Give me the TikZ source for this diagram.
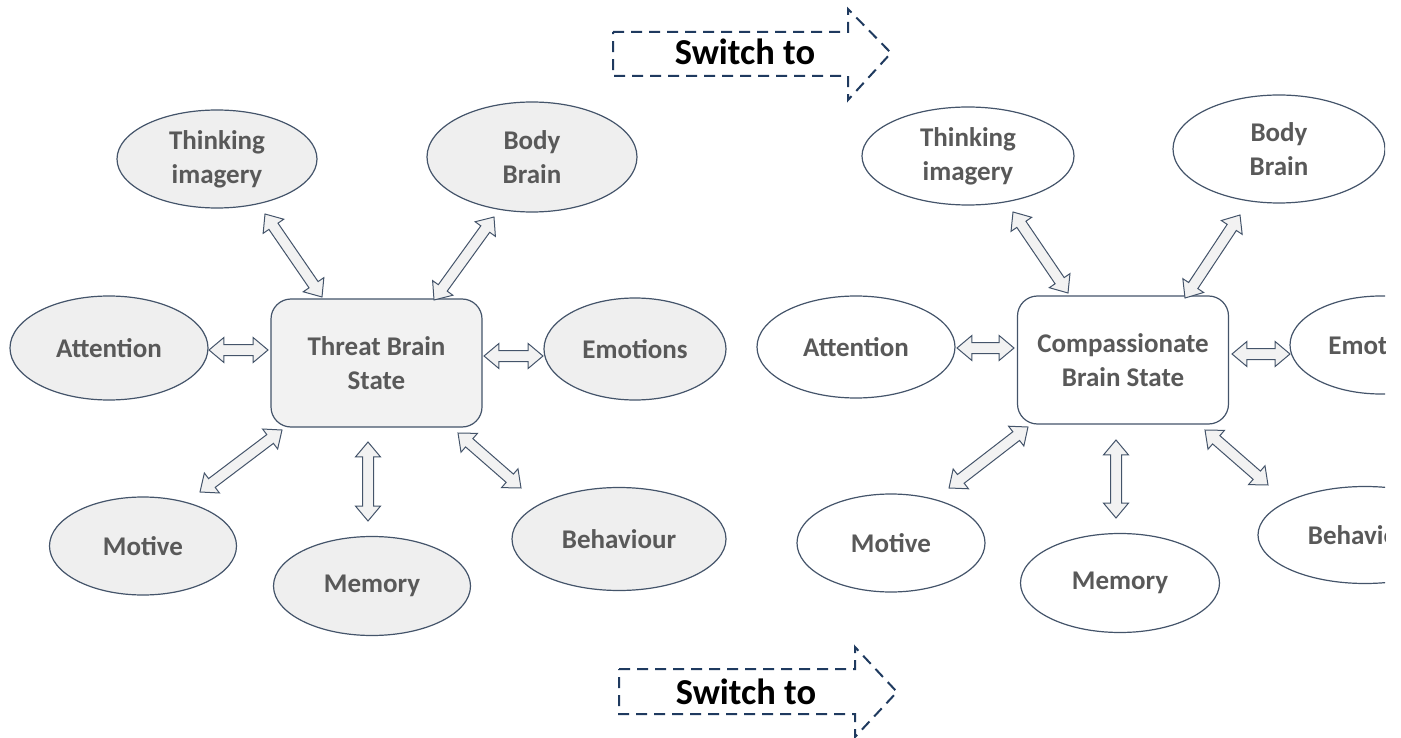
\documentclass[tikz,border=0pt]{standalone}
\usepackage{fontspec}
\setmainfont{Carlito}
\usetikzlibrary{shapes.geometric,shapes.arrows,calc}
\definecolor{ec}{HTML}{44546A}
\definecolor{navy}{HTML}{1F3A5F}
\definecolor{tg}{HTML}{595959}
\definecolor{fillc}{HTML}{EFEFEF}
\definecolor{arrf}{HTML}{F2F2F2}
\tikzset{
  ell/.style={ellipse, draw=ec, line width=1.2pt, inner sep=0pt, text=tg,
    font=\fontsize{27}{34}\selectfont\bfseries, align=center},
  grayell/.style={ell, fill=fillc},
  whiteell/.style={ell, fill=white},
  statebox/.style={rectangle, rounded corners=20pt, draw=ec, line width=1.2pt,
    minimum width=211pt, minimum height=128pt, inner sep=0pt, text=tg,
    font=\fontsize{27}{34}\selectfont\bfseries, align=center},
  barr/.style={double arrow, draw=ec, fill=arrf, line width=1pt,
    double arrow head extend=7pt,
    double arrow tip angle=80, inner xsep=0pt, inner ysep=5pt},
  switcharrow/.style={draw=navy, line width=2pt, dash pattern=on 11pt off 7pt},
  switchtext/.style={font=\fontsize{36.5}{40}\selectfont\bfseries, text=black}
}
\newcommand\blockarrow[3]{%
  \path let \p1=(#2), \p2=(#3), \n1={atan2(\y2-\y1,\x2-\x1)},
    \n2={veclen(\x2-\x1,\y2-\y1)} in
    node[barr, minimum height=\n2, rotate=\n1] (#1) at ($(#2)!0.5!(#3)$) {};}
\begin{document}
\begin{tikzpicture}[x=1pt,y=-1pt]
\useasboundingbox (0,0) rectangle (1401,738);
\begin{scope}
\clip (0,0) rectangle (1385,738);
% ---------- left: threat ----------
\node[statebox, fill=arrf] (threat) at (376.5,363) {Threat Brain\\State};
\node[grayell, minimum width=200pt, minimum height=98pt] (lthink) at (217,159) {Thinking\\imagery};
\node[grayell, minimum width=210pt, minimum height=110pt] (lbody) at (532,157) {Body\\Brain};
\node[grayell, minimum width=198pt, minimum height=104pt] (latt) at (109,348) {Attention};
\node[grayell, minimum width=182pt, minimum height=102pt] (lemo) at (635,349) {Emotions};
\node[grayell, minimum width=187pt, minimum height=98pt] (lmot) at (143,546) {Motive};
\node[grayell, minimum width=197pt, minimum height=99pt] (lmem) at (372,586) {Memory};
\node[grayell, minimum width=214pt, minimum height=103pt] (lbeh) at (619,539) {Behaviour};
\coordinate (a1s) at (265,214); \coordinate (a1e) at (322,297);
\coordinate (a2s) at (494,217); \coordinate (a2e) at (434,300);
\coordinate (a3s) at (209,350); \coordinate (a3e) at (268,350);
\coordinate (a4s) at (484,356); \coordinate (a4e) at (543,356);
\coordinate (a5s) at (200,492); \coordinate (a5e) at (282,430);
\coordinate (a6s) at (368,442); \coordinate (a6e) at (368,521);
\coordinate (a7s) at (458,433); \coordinate (a7e) at (521,488);
\blockarrow{la1}{a1s}{a1e}
\blockarrow{la2}{a2s}{a2e}
\blockarrow{la3}{a3s}{a3e}
\blockarrow{la4}{a4s}{a4e}
\blockarrow{la5}{a5s}{a5e}
\blockarrow{la6}{a6s}{a6e}
\blockarrow{la7}{a7s}{a7e}
% ---------- right: compassionate ----------
\node[statebox, fill=white] (comp) at (1123,360) {Compassionate\\Brain State};
\node[whiteell, minimum width=212pt, minimum height=98pt] (rthink) at (968,156) {Thinking\\imagery};
\node[whiteell, minimum width=212pt, minimum height=108pt] (rbody) at (1279,149) {Body\\Brain};
\node[whiteell, minimum width=198pt, minimum height=102pt] (ratt) at (856,347) {Attention};
\node[whiteell, minimum width=182pt, minimum height=98pt] (remo) at (1381,345) {Emotions};
\node[whiteell, minimum width=188pt, minimum height=98pt] (rmot) at (891,543) {Motive};
\node[whiteell, minimum width=199pt, minimum height=99pt] (rmem) at (1120,583) {Memory};
\node[whiteell, minimum width=214pt, minimum height=97pt] (rbeh) at (1365,535) {Behaviour};
\coordinate (b1s) at (1013,212); \coordinate (b1e) at (1068,293);
\coordinate (b2s) at (1240,215); \coordinate (b2e) at (1185,298);
\coordinate (b3s) at (957,348); \coordinate (b3e) at (1014,348);
\coordinate (b4s) at (1232,354); \coordinate (b4e) at (1290,354);
\coordinate (b5s) at (949,488); \coordinate (b5e) at (1028,427);
\coordinate (b6s) at (1116,440); \coordinate (b6e) at (1116,518);
\coordinate (b7s) at (1205,430); \coordinate (b7e) at (1268,485);
\blockarrow{ra1}{b1s}{b1e}
\blockarrow{ra2}{b2s}{b2e}
\blockarrow{ra3}{b3s}{b3e}
\blockarrow{ra4}{b4s}{b4e}
\blockarrow{ra5}{b5s}{b5e}
\blockarrow{ra6}{b6s}{b6e}
\blockarrow{ra7}{b7s}{b7e}
\end{scope}
% ---------- switch arrows ----------
\draw[switcharrow] (613,32) -- (848,32) -- (848,9) -- (891,53) -- (848,100) -- (848,76) -- (613,76) -- cycle;
\node[switchtext] (sw1) at (745,52) {Switch to};
\draw[switcharrow] (619,669) -- (855,669) -- (855,647) -- (897,692) -- (855,737) -- (855,714) -- (619,714) -- cycle;
\node[switchtext] (sw2) at (746,692) {Switch to};
\end{tikzpicture}
\end{document}
